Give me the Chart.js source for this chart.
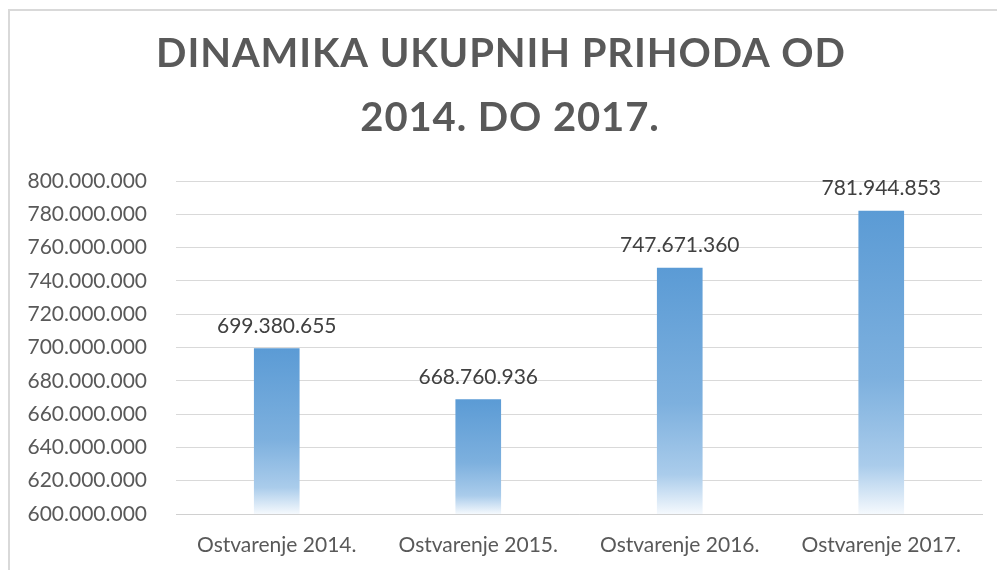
<!DOCTYPE html>
<html>
<head>
<meta charset="utf-8">
<title>Dinamika ukupnih prihoda</title>
<script src="https://cdn.jsdelivr.net/npm/chart.js@4.4.1/dist/chart.umd.min.js"></script>
<style>
  body { margin: 0; background: #ffffff; overflow: hidden; }
  #frame {
    position: absolute; left: 8px; top: 9px; width: 1000px; height: 600px;
    border-left: 2px solid #d9d9d9; border-top: 2px solid #d9d9d9;
  }
  #chart { position: absolute; left: 0; top: 0; }
</style>
</head>
<body>
<div id="frame"></div>
<canvas id="chart" width="997" height="570"></canvas>
<script>
// podaci sa grafikona
const titleLines = ["DINAMIKA UKUPNIH PRIHODA OD", "2014. DO 2017."];
const categories = ["Ostvarenje 2014.", "Ostvarenje 2015.", "Ostvarenje 2016.", "Ostvarenje 2017."];
const prihodi = [699380655, 668760936, 747671360, 781944853];
const yMin = 600000000;
const yMax = 800000000;
const yStep = 20000000;

// 800000000 -> "800.000.000"
function formatBroj(v) {
  return String(Math.round(v)).replace(/\B(?=(\d{3})+(?!\d))/g, ".");
}

// gradijent za svaki stubac posebno (od vrha stupca do dna)
function barGradient(context) {
  const chart = context.chart;
  if (!chart.chartArea) return "#5b9bd5";
  const y = chart.scales.y;
  const top = y.getPixelForValue(context.raw);
  const bottom = y.getPixelForValue(yMin);
  const g = chart.ctx.createLinearGradient(0, top, 0, bottom);
  g.addColorStop(0, "rgb(91,155,213)");
  g.addColorStop(0.55, "rgb(125,176,222)");
  g.addColorStop(0.84, "rgb(170,204,235)");
  g.addColorStop(1, "rgb(245,249,253)");
  return g;
}

// naslov sa razmakom izmedju slova
const titlePlugin = {
  id: "titlePlugin",
  afterDraw(chart) {
    const ctx = chart.ctx;
    ctx.save();
    ctx.font = "bold 40px Lato";
    ctx.fillStyle = "#595959";
    ctx.textAlign = "center";
    ctx.textBaseline = "alphabetic";
    ctx.letterSpacing = "0.9px";
    ctx.fillText(titleLines[0], 501, 67);
    ctx.fillText(titleLines[1], 510, 131);
    ctx.restore();
  }
};

// vrijednosti iznad stubaca
const labelPlugin = {
  id: "labelPlugin",
  afterDatasetsDraw(chart) {
    const ctx = chart.ctx;
    const meta = chart.getDatasetMeta(0);
    ctx.save();
    ctx.font = "21px Lato";
    ctx.fillStyle = "#404040";
    ctx.textAlign = "center";
    ctx.textBaseline = "alphabetic";
    meta.data.forEach((bar, i) => {
      ctx.fillText(formatBroj(prihodi[i]), bar.x, bar.y - 16);
    });
    ctx.restore();
  }
};

const ctx = document.getElementById("chart").getContext("2d");
new Chart(ctx, {
  type: "bar",
  data: {
    labels: categories,
    datasets: [{
      data: prihodi,
      backgroundColor: barGradient,
      borderWidth: 0,
      barThickness: 45
    }]
  },
  options: {
    responsive: false,
    animation: false,
    layout: { padding: { left: 0, right: 15, top: 181, bottom: 0 } },
    plugins: {
      legend: { display: false },
      title: { display: false },
      tooltip: { enabled: false }
    },
    scales: {
      x: {
        grid: { display: false, drawTicks: false },
        border: { display: true, color: "#d0d0d0", width: 1 },
        ticks: {
          color: "#595959",
          font: { family: "Lato", size: 21 },
          padding: 19
        },
        afterFit(scale) { scale.height = 56; }
      },
      y: {
        min: yMin,
        max: yMax,
        grid: { color: "#d9d9d9", lineWidth: 1, drawTicks: false },
        border: { display: false },
        ticks: {
          stepSize: yStep,
          color: "#595959",
          font: { family: "Lato", size: 21 },
          padding: 29,
          callback: v => formatBroj(v)
        },
        afterFit(scale) { scale.width = 176; }
      }
    }
  },
  plugins: [titlePlugin, labelPlugin]
});
</script>
</body>
</html>
